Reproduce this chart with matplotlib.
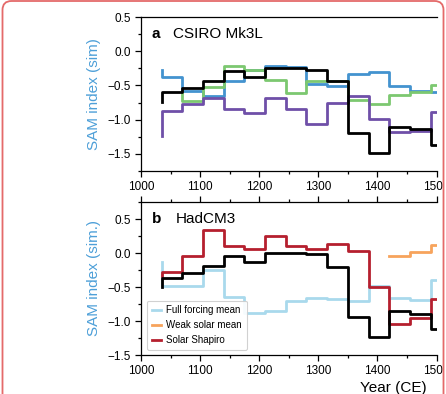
import matplotlib
matplotlib.use("Agg")
import matplotlib.pyplot as plt
from matplotlib.patches import FancyBboxPatch, Rectangle
from matplotlib.transforms import IdentityTransform
from matplotlib.ticker import MultipleLocator

plt.rcParams['font.family'] = ['Liberation Sans', 'DejaVu Sans']

# bin edges (35-yr steps), first value of each series is the start of the step line
years = [1035, 1070, 1105, 1140, 1175, 1210, 1245, 1280, 1315, 1350, 1385, 1420, 1455, 1490, 1525]

# panel a: CSIRO Mk3L
csiro_blue = [-0.28, -0.38, -0.58, -0.65, -0.43, -0.28, -0.22, -0.23, -0.48, -0.51, -0.34, -0.30, -0.51, -0.58, -0.59]
csiro_purple = [-1.24, -0.88, -0.77, -0.68, -0.85, -0.90, -0.68, -0.85, -1.06, -0.76, -0.65, -0.99, -1.18, -1.17, -0.89]
csiro_black = [-0.74, -0.60, -0.54, -0.44, -0.29, -0.38, -0.24, -0.24, -0.27, -0.44, -1.19, -1.48, -1.11, -1.14, -1.37]
green_years = years[1:]
csiro_green = [-0.60, -0.72, -0.52, -0.21, -0.28, -0.42, -0.61, -0.43, -0.43, -0.71, -0.77, -0.64, -0.60, -0.50]

# panel b: HadCM3
had_full = [-0.13, -0.48, -0.48, -0.25, -0.64, -0.88, -0.85, -0.70, -0.66, -0.68, -0.71, -0.48, -0.66, -0.69, -0.39]
had_shapiro = [-0.34, -0.28, -0.05, 0.34, 0.10, 0.065, 0.245, 0.10, 0.065, 0.135, 0.025, -0.50, -1.05, -0.96, -0.67]
had_black = [-0.50, -0.37, -0.29, -0.19, -0.04, -0.13, 0.0, 0.0, -0.02, -0.20, -0.94, -1.23, -0.86, -0.90, -1.12]
weak_years = [1420, 1455, 1490, 1525]
had_weak = [-0.05, -0.05, 0.01, 0.12]

legend_labels = ["Full forcing mean", "Weak solar mean", "Solar Shapiro"]

W, H = 446, 394
fig = plt.figure(figsize=(W / 100, H / 100), dpi=100)

left = 141 / W
width = 295.5 / W
ax1 = fig.add_axes([left, 1 - 171 / H, width, 154 / H])
ax2 = fig.add_axes([left, 1 - 355 / H, width, 153 / H])

lw = 2.0
ax1.step(years, csiro_blue, where='pre', color='#4393cf', lw=lw)
ax1.step(green_years, csiro_green, where='pre', color='#7cc870', lw=lw)
ax1.step(years, csiro_purple, where='pre', color='#6f4fa8', lw=lw)
ax1.step(years, csiro_black, where='pre', color='black', lw=lw)

l1, = ax2.step(years, had_full, where='pre', color='#a9d9ec', lw=lw)
l2, = ax2.step(weak_years, had_weak, where='pre', color='#f7a35c', lw=lw)
l3, = ax2.step(years, had_shapiro, where='pre', color='#b51f2e', lw=lw)
ax2.step(years, had_black, where='pre', color='black', lw=lw)

ax1.set_ylim(-1.75, 0.5)
ax2.set_ylim(-1.5, 0.75)

label_col = '#4d9fd8'
for ax in (ax1, ax2):
    ax.set_xlim(1000, 1500)
    ax.spines['right'].set_visible(False)
    ax.xaxis.set_major_locator(MultipleLocator(100))
    ax.xaxis.set_minor_locator(MultipleLocator(50))
    ax.yaxis.set_major_locator(MultipleLocator(0.5))
    ax.yaxis.set_minor_locator(MultipleLocator(0.25))
    ax.tick_params(which='major', direction='out', length=4, width=0.9, labelsize=8.5)
    ax.tick_params(which='minor', direction='out', length=2.2, width=0.9)
    ax.yaxis.set_major_formatter(plt.FuncFormatter(lambda v, p: f"{v:.1f}".replace('-', '\u2212')))
    for s in ax.spines.values():
        s.set_linewidth(0.9)

ax2.tick_params(which='both', top=True)

ax1.set_ylabel("SAM index (sim)", fontsize=11, color=label_col)
ax2.set_ylabel("SAM index (sim.)", fontsize=11, color=label_col)
ax1.yaxis.set_label_coords(-0.137, 0.5)
ax2.yaxis.set_label_coords(-0.137, 0.5)

ax1.text(0.037, 0.865, "a", transform=ax1.transAxes, fontsize=11, fontweight='bold')
ax1.text(0.108, 0.865, "CSIRO Mk3L", transform=ax1.transAxes, fontsize=11)
ax2.text(0.037, 0.866, "b", transform=ax2.transAxes, fontsize=11, fontweight='bold')
ax2.text(0.118, 0.866, "HadCM3", transform=ax2.transAxes, fontsize=11)

leg = ax2.legend([l1, l2, l3], legend_labels, loc='lower left', bbox_to_anchor=(0.02, 0.033),
                 borderaxespad=0, fontsize=7, handlelength=1.0, handletextpad=0.5,
                 borderpad=0.5, labelspacing=0.5, framealpha=0.9, edgecolor='#cccccc')
leg.get_frame().set_linewidth(0.8)

fig.text(393 / W, 1 - 388 / H, "Year (CE)", fontsize=11, ha='center', va='center')

# frame around the crop
fig.add_artist(Rectangle((443.5, 0), 10, H, transform=IdentityTransform(),
                         facecolor='white', edgecolor='none', zorder=20))
fig.add_artist(FancyBboxPatch((2.5, -30), 441, H + 29, boxstyle="round,pad=0,rounding_size=9",
                              transform=IdentityTransform(), facecolor='none',
                              edgecolor='#e46a6a', lw=1.3, zorder=21))

fig.savefig("out.png", dpi=100)
